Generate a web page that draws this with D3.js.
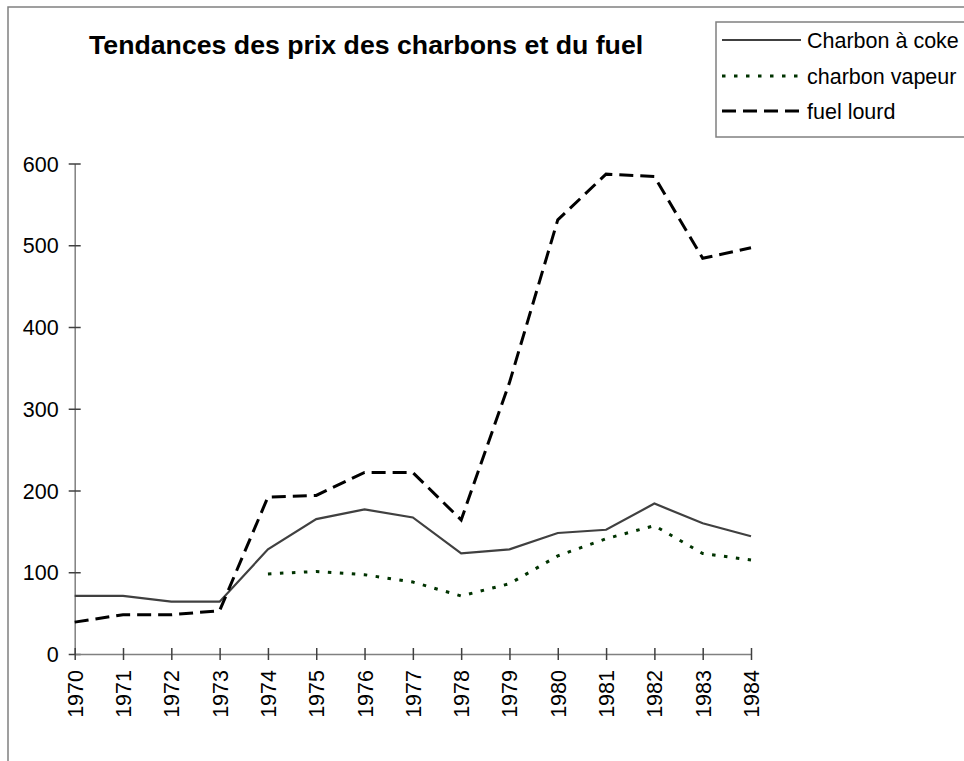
<!DOCTYPE html>
<html>
<head>
<meta charset="utf-8">
<script src="https://cdn.jsdelivr.net/npm/d3@7"></script>
<style>
  body { margin: 0; background: #fff; }
  svg { display: block; font-family: "Liberation Sans", Arial, sans-serif; }
</style>
</head>
<body>
<svg class="main" width="964" height="761"></svg>
<script>
// data
var years = ['1970', '1971', '1972', '1973', '1974', '1975', '1976', '1977',
  '1978', '1979', '1980', '1981', '1982', '1983', '1984']
var coke = [71, 71, 64, 64, 128, 165, 177, 167, 123, 128, 148, 152, 184, 160, 144]
var vapeur = [null, null, null, null, 98, 101, 97, 88, 71, 86, 120, 141, 157, 123, 115]
var fuel = [39, 48, 48, 53, 192, 194, 222, 222, 164, 332, 531, 587, 584, 484, 497]
var yTicks = [0, 100, 200, 300, 400, 500, 600]
var seriesNames = ['Charbon à coke', 'charbon vapeur', 'fuel lourd']

var series = [
  {name: seriesNames[0], values: coke, color: '#404040', width: 2.2, dash: null},
  {name: seriesNames[1], values: vapeur, color: '#003300', width: 3, dash: '3.5,8.5'},
  {name: seriesNames[2], values: fuel, color: '#000000', width: 3, dash: '14,7'}
]

const svg = d3.select('svg.main')
const axisColor = '#808080'
const fontFam = '"Liberation Sans", Arial, sans-serif'

// outer chart frame
svg.append('rect')
  .attr('x', 8).attr('y', 7)
  .attr('width', 1000).attr('height', 800)
  .attr('fill', 'none')
  .attr('stroke', axisColor)
  .attr('stroke-width', 1.5)

// title
svg.append('text')
  .attr('x', 89).attr('y', 54)
  .attr('font-size', 26.7)
  .attr('font-weight', 'bold')
  .attr('fill', '#000')
  .text('Tendances des prix des charbons et du fuel')

// scales
const xScale = d3.scalePoint()
  .domain(years)
  .range([74.7, 751])

const yScale = d3.scaleLinear()
  .domain([0, 600])
  .range([654, 163.5])

// y axis
const yAxis = svg.append('g')
  .attr('transform', `translate(${xScale(years[0])}, 0)`)
  .call(d3.axisLeft(yScale).tickValues(yTicks).tickSizeOuter(0).tickPadding(10))
yAxis.select('.domain').attr('stroke', axisColor).attr('stroke-width', 1.5)
yAxis.selectAll('.tick line')
  .attr('x1', -6).attr('x2', 6)
  .attr('stroke', '#404040').attr('stroke-width', 1.5)
yAxis.selectAll('.tick text')
  .attr('font-size', 21.5)
  .attr('font-family', fontFam)
  .attr('fill', '#000')
  .attr('dy', '0.35em')

// x axis
const xAxis = svg.append('g')
  .attr('transform', `translate(0, ${yScale(0)})`)
  .call(d3.axisBottom(xScale).tickSizeOuter(0))
xAxis.select('.domain').attr('stroke', axisColor).attr('stroke-width', 1.5)
xAxis.selectAll('.tick line')
  .attr('y1', -6).attr('y2', 6)
  .attr('stroke', '#404040').attr('stroke-width', 1.5)
xAxis.selectAll('.tick text')
  .attr('font-size', 21.5)
  .attr('font-family', fontFam)
  .attr('fill', '#000')
  .attr('y', 0).attr('x', -16)
  .attr('dy', '0.35em')
  .style('text-anchor', 'end')
  .attr('transform', 'rotate(-90)')

// lines
var line = d3.line()
  .defined(d => d.v != null)
  .x(d => xScale(d.year))
  .y(d => yScale(d.v))

svg.selectAll('path.serie')
  .data(series).enter()
  .append('path')
  .attr('class', 'serie')
  .attr('d', s => line(s.values.map((v, i) => ({year: years[i], v: v}))))
  .attr('fill', 'none')
  .attr('stroke', s => s.color)
  .attr('stroke-width', s => s.width)
  .attr('stroke-dasharray', s => s.dash)
  .attr('stroke-linejoin', 'miter')

// legend
const legend = svg.append('g').attr('class', 'legend')
legend.append('rect')
  .attr('x', 716).attr('y', 22)
  .attr('width', 300).attr('height', 115)
  .attr('fill', '#fff')
  .attr('stroke', axisColor)
  .attr('stroke-width', 1.5)

const rowY = [40, 76, 111]
const items = legend.selectAll('g.item')
  .data(series).enter()
  .append('g')
  .attr('class', 'item')
  .attr('transform', (d, i) => `translate(0, ${rowY[i]})`)
items.append('line')
  .attr('x1', 722).attr('x2', 801)
  .attr('stroke', d => d.color)
  .attr('stroke-width', d => d.width)
  .attr('stroke-dasharray', d => d.dash)
items.append('text')
  .attr('x', 807).attr('y', 7.5)
  .attr('font-size', 21.5)
  .attr('fill', '#000')
  .text(d => d.name)
</script>
</body>
</html>
